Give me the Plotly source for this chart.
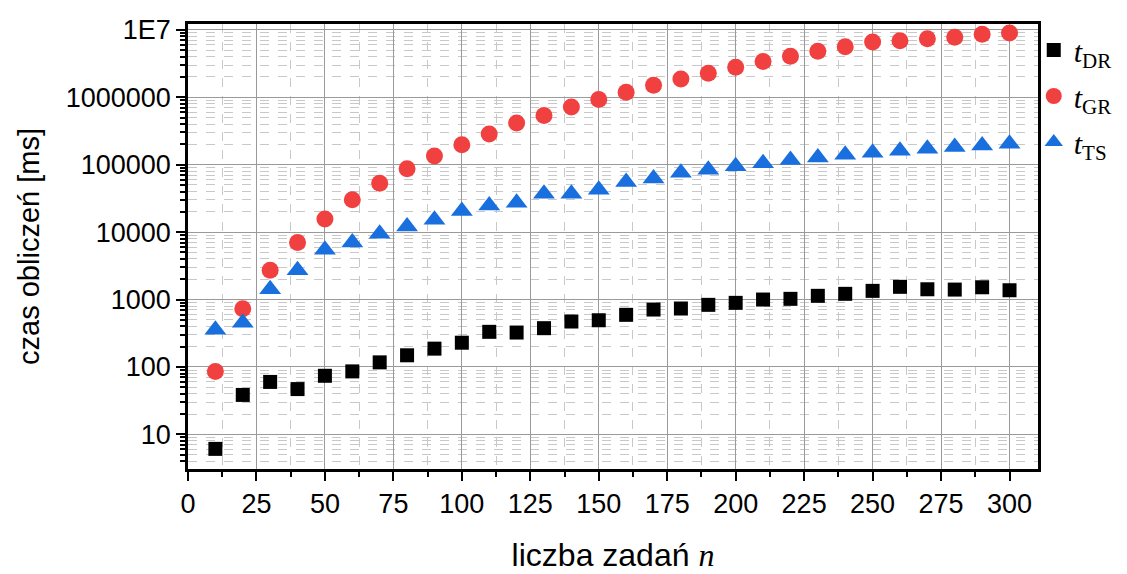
import plotly.graph_objects as go

n = [10, 20, 30, 40, 50, 60, 70, 80, 90, 100, 110, 120, 130, 140, 150,
     160, 170, 180, 190, 200, 210, 220, 230, 240, 250, 260, 270, 280, 290, 300]

t_dr = [6.1, 38.5, 60, 47, 74, 86, 117, 149, 187, 229, 332, 324, 376, 472, 493,
        593, 711, 736, 834, 893, 1000, 1024, 1135, 1215, 1345, 1543, 1420, 1405, 1520, 1373]

t_gr = [86, 728, 2720, 7020, 15700, 30100, 53200, 86700, 134500, 198000,
        285000, 415000, 537000, 715000, 927000, 1185000, 1510000, 1870000, 2270000, 2780000,
        3380000, 4050000, 4800000, 5620000, 6600000, 6900000, 7390000, 7750000, 8580000, 8970000]

t_ts = [356, 452, 1420, 2720, 5470, 7020, 9440, 12100, 15200, 20500,
        24800, 27200, 37000, 37000, 42400, 55200, 62500, 75800, 84300, 94400,
        104600, 117000, 128000, 140600, 150700, 161000, 172500, 183000, 193000, 205000]

x_ticks = [0, 25, 50, 75, 100, 125, 150, 175, 200, 225, 250, 275, 300]
y_ticks = [10, 100, 1000, 10000, 100000, 1000000, 10000000]
y_ticktext = ["10", "100", "1000", "10000", "100000", "1000000", "1E7"]

names = ["<i>t</i><sub>DR</sub>", "<i>t</i><sub>GR</sub>", "<i>t</i><sub>TS</sub>"]

fig = go.Figure()
fig.add_trace(go.Scatter(x=n, y=t_dr, mode="markers", name=names[0], legendgroup="a",
                         marker=dict(symbol="square", size=14, color="#000000")))
fig.add_trace(go.Scatter(x=n, y=t_gr, mode="markers", name=names[1], legendgroup="b",
                         marker=dict(symbol="circle", size=17, color="#F14040")))
fig.add_trace(go.Scatter(x=n, y=t_ts, mode="markers", name=names[2], legendgroup="c",
                         marker=dict(symbol="triangle-up", size=19, color="#1A6FDF")))

sans = "Liberation Sans, Arial, sans-serif"

fig.update_layout(
    width=1127, height=574,
    margin=dict(l=188, r=89, t=24, b=105, autoexpand=False),
    paper_bgcolor="white", plot_bgcolor="white",
    font=dict(family=sans, size=22, color="black"),
    showlegend=True,
    legend=dict(x=0.995, y=1.0, xanchor="left", yanchor="top",
                font=dict(family="Liberation Serif, Times New Roman, serif", size=30, color="black"),
                bgcolor="rgba(0,0,0,0)", tracegroupgap=4, itemwidth=30),
    xaxis=dict(
        range=[0, 310.4], tickvals=x_ticks, ticks="outside", ticklen=9, tickwidth=2,
        tickcolor="black", showline=True, linewidth=2.5, linecolor="black", mirror=True,
        showgrid=True, gridcolor="#9a9a9a", gridwidth=1, zeroline=False, automargin=False,
        tickfont=dict(family=sans, size=27),
        minor=dict(dtick=12.5, tick0=0, ticks="outside", ticklen=5, tickwidth=2, tickcolor="black",
                   showgrid=True, gridcolor="#c8c8c8", griddash="dash", gridwidth=1),
        title=dict(text="liczba zadań <i><span style='font-family:Liberation Serif'>n</span></i>",
                   font=dict(family=sans, size=32), standoff=26),
    ),
    yaxis=dict(
        type="log", range=[0.487, 7.086], tickvals=y_ticks, ticktext=y_ticktext,
        ticks="outside", ticklen=9, tickwidth=2, tickcolor="black",
        showline=True, linewidth=2.5, linecolor="black", mirror=True,
        showgrid=True, gridcolor="#9a9a9a", gridwidth=1, zeroline=False, automargin=False,
        tickfont=dict(family=sans, size=27),
        minor=dict(dtick="D1", ticks="outside", ticklen=5, tickwidth=1.5, tickcolor="black",
                   showgrid=True, gridcolor="#c8c8c8", griddash="dash", gridwidth=1),
        title=dict(text="czas obliczeń [ms]", font=dict(family=sans, size=29), standoff=18),
    ),
)

fig.write_html("out.html")
